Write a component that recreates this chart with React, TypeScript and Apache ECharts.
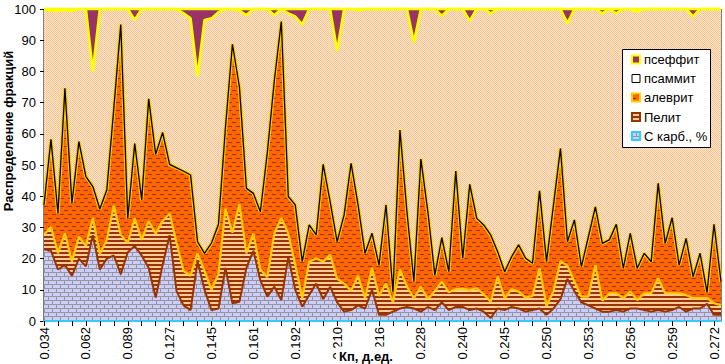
import React, { useEffect, useRef } from 'react';
import * as echarts from 'echarts';

// Кп, д.ед. (only every 6th label is readable; the others are estimates)
const categories = [
  '0.034','0.037','0.041','0.046','0.051','0.056','0.062','0.066','0.071','0.075',
  '0.080','0.084','0.089','0.095','0.102','0.108','0.115','0.121','0.127','0.130',
  '0.133','0.136','0.139','0.142','0.145','0.148','0.150','0.153','0.155','0.158',
  '0.161','0.166','0.171','0.176','0.182','0.187','0.192','0.195','0.198','0.201',
  '0.204','0.207','0.210','0.211','0.212','0.213','0.214','0.215','0.216','0.218',
  '0.220','0.222','0.224','0.226','0.228','0.230','0.232','0.234','0.236','0.238',
  '0.240','0.241','0.242','0.243','0.243','0.244','0.245','0.246','0.247','0.248',
  '0.248','0.249','0.250','0.250','0.251','0.251','0.252','0.252','0.253','0.253',
  '0.254','0.254','0.255','0.255','0.256','0.256','0.257','0.257','0.258','0.258',
  '0.259','0.260','0.262','0.264','0.266','0.269','0.272','0.276'
];

const cCarb = [
  23,22.5,16.5,18,14.5,20,17.5,27.5,16.5,20,
  21,15,22,24,21,17,7.5,18,27.5,9.5,
  5,3.5,19,10,3.5,4,17,5.7,6.2,17,
  22.5,13,7.8,11,6.7,20.5,10,4.6,8.3,12,
  7,11,6,3,3.5,5,4,10,2,2,
  3,4,4.5,4,3,4.5,3.5,6,3.5,4.5,
  4.5,3.5,4,3,1,4,3.5,4.5,4,3,
  3.5,4,2,4,7,13.5,9.5,6,5,4,
  3,3,3.5,3,4,4,3.5,3,3.5,3,
  3.5,4.5,3,4,4,5.5,2,2
];

const pelit = [
  4.6,7.7,5.2,10.1,4.5,7.0,6.5,5.5,5.0,6.0,
  16.0,12.6,3.0,8.9,5.0,15.0,20.5,14.0,7.0,15.5,
  11.0,11.0,2.7,6.0,6.5,11.0,19.0,22.6,31.3,4.7,
  5.5,3.5,6.2,17.0,26.3,7.5,8.0,2.7,10.7,8.0,
  12.0,10.2,7.5,9.0,6.1,9.5,3.3,7.0,6.0,10.0,
  3.0,12.5,6.5,3.3,8.0,2.5,6.1,6.6,5.7,5.7,
  5.8,6.4,6.5,5.6,5.2,10.2,3.8,5.7,5.4,4.5,
  4.5,12.9,2.8,5.5,12.2,4.2,3.1,1.8,2.8,13.9,
  3.5,5.9,5.4,4.3,5.4,2.7,5.4,5.9,10.2,5.9,
  5.4,4.4,5.3,3.3,3.3,1.8,3.7,3.1
];

const alevrit = [
  9.6,28.0,12.8,46.5,18.7,30.5,22.3,10.1,14.4,16.0,
  31.0,67.4,7.9,24.0,12.8,39.2,25.4,28.4,15.7,24.1,
  32.0,32.3,3.7,5.7,15.0,16.0,26.0,60.4,37.5,20.8,
  12.9,18.5,40.0,49.0,63.0,11.9,19.2,11.7,11.8,7.6,
  31.2,17.0,11.9,22.0,40.9,22.7,14.4,11.1,9.9,25.2,
  3.4,44.7,24.0,5.3,40.9,28.0,5.1,14.1,6.6,37.9,
  9.8,33.9,22.4,22.2,21.4,8.0,8.5,10.4,15.0,12.6,
  10.5,24.8,14.2,27.7,36.1,7.7,19.8,9.6,19.2,18.7,
  18.4,17.1,22.1,9.6,18.7,10.2,12.8,10.1,30.4,16.0,
  24.2,9.0,18.2,6.9,14.4,1.9,25.3,7.5
];

const psammit = [
  62.5,41.3,64.9,25.1,61.7,42.5,53.7,36.9,64.1,58.0,
  32.0,5.0,67.1,39.6,61.2,28.8,46.6,39.6,49.8,50.9,
  50.6,50.2,52.9,74.8,72.0,68.0,38.0,11.3,24.5,55.5,
  59.1,65.0,46.0,21.0,4.0,58.7,60.4,76.0,69.2,72.4,
  49.8,61.8,61.1,66.0,49.5,62.3,78.3,71.9,82.1,62.8,
  90.6,38.8,65.0,76.7,48.1,65.0,85.3,71.1,84.2,51.9,
  79.9,52.4,67.1,69.2,71.0,77.8,84.2,79.4,75.6,79.9,
  81.5,58.3,81.0,62.8,44.7,70.0,67.6,82.6,73.0,63.4,
  73.7,74.0,67.6,83.1,71.9,82.2,78.3,81.0,55.9,75.1,
  66.9,82.1,73.5,83.4,78.3,90.8,69.0,87.4
];

const psefit = [
  0.3,0.5,0.6,0.3,0.6,0,0,20,0,0,
  0,0,0,3.5,0,0,0,0,0,0,
  1.4,3,21.7,3.5,3,1,0,0,0.5,2,
  0,0,0,2,0,1.4,2.4,5,0,0,
  0,0,13.5,0,0,0.5,0,0,0,0,
  0,0,0,10.7,0,0,0,2.2,0,0,
  0,3.8,0,0,1.4,0,0,0,0,0,
  0,0,0,0,0,4.6,0,0,0,0,
  1.4,0,1.4,0,0,0.9,0,0,0,0,
  0,0,0,2.4,0,0,0,0
];

const legendNames = ['псеффит', 'псаммит', 'алеврит', 'Пелит', 'С карб., %'];

const FONT = '"Liberation Sans", Arial, sans-serif';

function makePattern(w: number, h: number, draw: (ctx: CanvasRenderingContext2D) => void) {
  const c = document.createElement('canvas');
  c.width = w;
  c.height = h;
  const ctx = c.getContext('2d') as CanvasRenderingContext2D;
  draw(ctx);
  return { image: c.toDataURL(), repeat: 'repeat', imageWidth: w, imageHeight: h } as any;
}

export default function App() {
  const ref = useRef<HTMLDivElement>(null);

  useEffect(() => {
    const el = ref.current as HTMLDivElement;
    const chart = echarts.init(el, null, { renderer: 'svg' });

    const dots = makePattern(2, 2, (ctx) => {
      ctx.fillStyle = '#ffe9d4'; ctx.fillRect(0, 0, 2, 2);
      ctx.fillStyle = '#fbbf8a'; ctx.fillRect(0, 0, 1, 1); ctx.fillRect(1, 1, 1, 1);
    });
    const dashes = makePattern(8, 8, (ctx) => {
      ctx.fillStyle = '#ff6600'; ctx.fillRect(0, 0, 8, 8);
      ctx.fillStyle = '#993300'; ctx.fillRect(0, 2, 4, 1); ctx.fillRect(4, 6, 4, 1);
    });
    const stripes = makePattern(4, 4, (ctx) => {
      ctx.fillStyle = '#ffcc99'; ctx.fillRect(0, 0, 4, 4);
      ctx.fillStyle = '#993300'; ctx.fillRect(0, 0, 4, 2);
    });
    const bricks = makePattern(8, 8, (ctx) => {
      ctx.fillStyle = '#ccccff'; ctx.fillRect(0, 0, 8, 8);
      ctx.fillStyle = '#969696';
      ctx.fillRect(0, 0, 8, 1); ctx.fillRect(0, 1, 1, 3);
      ctx.fillRect(0, 4, 8, 1); ctx.fillRect(4, 5, 1, 3);
    });

    const layers = [
      { name: 'С карб., %', data: cCarb, fill: bricks, areaLine: { width: 0 }, edge: { color: '#993300', width: 2 } },
      { name: 'Пелит', data: pelit, fill: stripes, areaLine: { width: 0 }, edge: { color: '#ffcc00', width: 2.2 } },
      { name: 'алеврит', data: alevrit, fill: dashes, areaLine: { color: '#ffcc00', width: 3.5 }, edge: { color: '#000000', width: 1.3 } },
      { name: 'псаммит', data: psammit, fill: dots, areaLine: { width: 0 }, edge: { color: '#ffff00', width: 2.6 } },
      { name: 'псеффит', data: psefit, fill: '#993366', areaLine: { width: 0 }, edge: { color: '#ffff00', width: 2.6 } },
    ];

    const series: any[] = [];
    layers.forEach((l, k) => {
      series.push({
        id: 'area' + k,
        name: l.name,
        type: 'line',
        stack: 'area',
        data: l.data,
        symbol: 'none',
        silent: true,
        z: 2,
        lineStyle: l.areaLine,
        areaStyle: { color: l.fill, opacity: 1 },
      });
    });
    layers.forEach((l, k) => {
      series.push({
        id: 'edge' + k,
        name: l.name + ' ',
        type: 'line',
        stack: 'edge',
        data: l.data,
        symbol: 'none',
        silent: true,
        clip: false,
        z: 3,
        lineStyle: l.edge,
      });
    });

    const legendIcons = [
      { fill: '#993366', stroke: '#ffff00', lw: 2 },
      { fill: '#ffffff', stroke: '#000000', lw: 1 },
      { fill: dashes, stroke: '#ffcc00', lw: 2 },
      { fill: stripes, stroke: '#993300', lw: 2 },
      { fill: bricks, stroke: '#33ccff', lw: 2 },
    ];
    const rowY = [59.5, 78.5, 97.5, 117, 136];
    const graphic: any[] = [
      {
        type: 'rect', z: 100,
        shape: { x: 622.5, y: 49.5, width: 88, height: 98 },
        style: { fill: '#ffffff', stroke: '#000000', lineWidth: 1 },
      },
    ];
    legendNames.forEach((n, k) => {
      const ic = legendIcons[k];
      graphic.push({
        type: 'rect', z: 101,
        shape: { x: 632, y: rowY[k] - 4, width: 8, height: 8 },
        style: { fill: ic.fill, stroke: ic.stroke, lineWidth: ic.lw },
      });
      graphic.push({
        type: 'text', z: 101, x: 644, y: rowY[k],
        style: {
          text: n, font: '13px ' + FONT, fill: '#000000',
          textAlign: 'left', textVerticalAlign: 'middle', align: 'left', verticalAlign: 'middle',
        },
      });
    });
    graphic.push({
      type: 'text', z: 100, x: 8, y: 131, rotation: Math.PI / 2,
      style: {
        text: 'Распределение фракций', font: 'bold 13px ' + FONT, fill: '#000000',
        textAlign: 'center', textVerticalAlign: 'middle', align: 'center', verticalAlign: 'middle',
      },
    });
    graphic.push({
      type: 'text', z: 100, x: 366, y: 356,
      style: {
        text: 'Кп, д.ед.', font: 'bold 13px ' + FONT, fill: '#000000',
        backgroundColor: '#ffffff', padding: [3, 3, 3, 3],
        textAlign: 'center', textVerticalAlign: 'middle', align: 'center', verticalAlign: 'middle',
      },
    });

    chart.setOption({
      animation: false,
      backgroundColor: '#ffffff',
      grid: {
        left: 44, right: 4, top: 9, bottom: 43,
        show: true, borderColor: '#000000', borderWidth: 1, backgroundColor: 'transparent',
      },
      xAxis: {
        type: 'category',
        data: categories,
        boundaryGap: false,
        z: 5,
        axisLine: { lineStyle: { color: '#33ccff', width: 2 } },
        axisTick: { show: true, interval: 1, length: 5, lineStyle: { color: '#000000', width: 1 } },
        axisLabel: {
          interval: 5, rotate: 90, margin: 6,
          fontSize: 13, fontFamily: FONT, color: '#000000',
        },
        splitLine: { show: false },
      },
      yAxis: {
        type: 'value',
        min: 0, max: 100, interval: 10,
        axisLine: { show: true, lineStyle: { color: '#000000', width: 1 } },
        axisTick: { show: true, length: 4, lineStyle: { color: '#000000' } },
        axisLabel: { fontSize: 13, fontFamily: FONT, color: '#000000', margin: 8 },
        splitLine: { show: false },
      },
      series,
      graphic,
    });

    return () => {
      chart.dispose();
    };
  }, []);

  return (
    <div
      ref={ref}
      style={{ position: 'fixed', left: 0, top: 0, width: 725, height: 364, background: '#ffffff' }}
    />
  );
}
